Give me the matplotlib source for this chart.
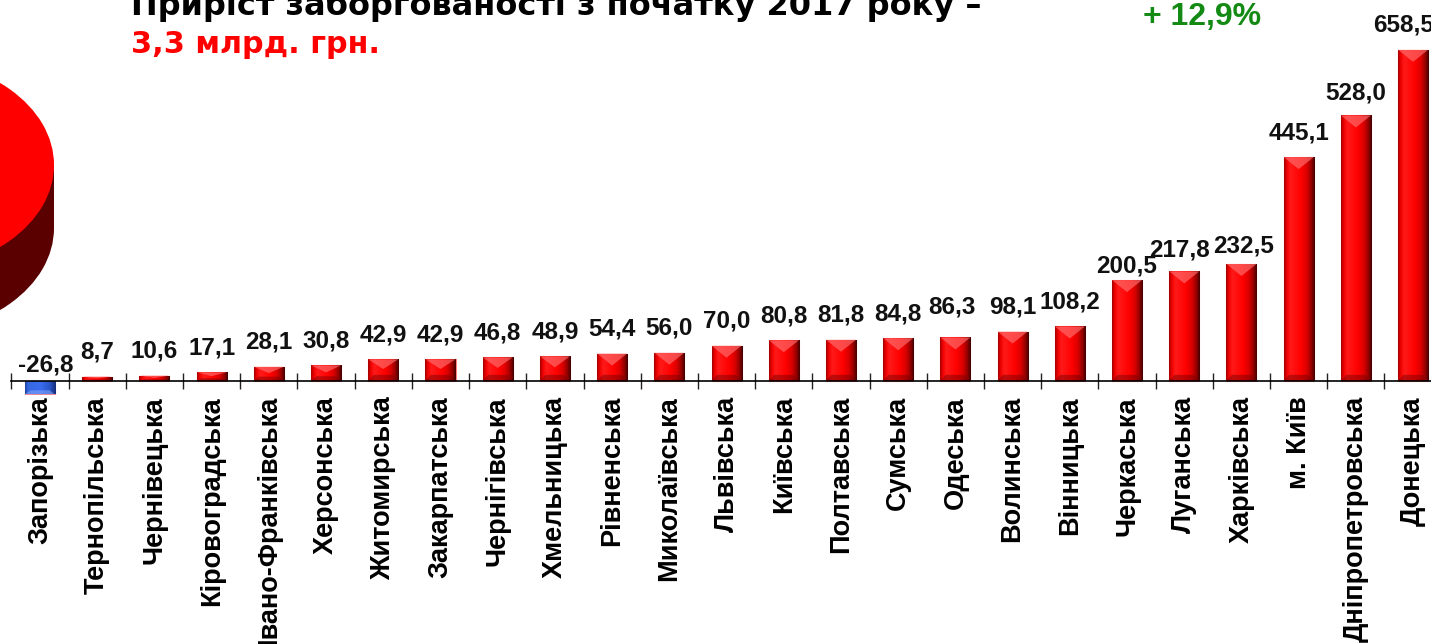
import matplotlib
matplotlib.use("Agg")
import matplotlib.pyplot as plt
import numpy as np
from matplotlib.colors import LinearSegmentedColormap
from matplotlib.patches import Polygon, Rectangle

plt.rcParams['font.family'] = ['Liberation Sans', 'DejaVu Sans']

categories = ["Запорізька", "Тернопільська", "Чернівецька", "Кіровоградська",
              "Івано-Франківська", "Херсонська", "Житомирська", "Закарпатська",
              "Чернігівська", "Хмельницька", "Рівненська", "Миколаївська",
              "Львівська", "Київська", "Полтавська", "Сумська", "Одеська",
              "Волинська", "Вінницька", "Черкаська", "Луганська", "Харківська",
              "м. Київ", "Дніпропетровська", "Донецька"]
values = [-26.8, 8.7, 10.6, 17.1, 28.1, 30.8, 42.9, 42.9, 46.8, 48.9, 54.4, 56.0,
          70.0, 80.8, 81.8, 84.8, 86.3, 98.1, 108.2, 200.5, 217.8, 232.5,
          445.1, 528.0, 658.5]

title_line1 = "Приріст заборгованості з початку 2017 року –"
title_line2 = "3,3 млрд. грн."
growth_text = "+ 12,9%"

# manual label nudges (pixels: dx, dy) relative to default placement
label_nudge = {"Запорізька": (6, 0), "Одеська": (-3, 6), "Черкаська": (0, -10.5),
               "Луганська": (-5, -3), "Харківська": (2, -7),
               "Дніпропетровська": (0, -2.5), "Донецька": (-10, 0)}

W, H = 1431, 644
fig = plt.figure(figsize=(W / 100, H / 100), dpi=100)
fig.patch.set_facecolor('white')

# ---------- partial 3D pie at the left edge ----------
pie_ax = fig.add_axes([-247 / W, (H - 335) / H, 301 / W, 277 / H])
depth = 0.59
pie_ax.pie([1], colors=['#5a0000'], center=(0, -depth), radius=1,
           wedgeprops=dict(linewidth=0))
pie_ax.add_patch(Rectangle((-1, -depth), 2, depth, color='#5a0000', lw=0))
pie_ax.pie([1], colors=['#ff0000'], center=(0, 0), radius=1,
           wedgeprops=dict(linewidth=0))
pie_ax.set_aspect('auto')
pie_ax.set_xlim(-1, 1)
pie_ax.set_ylim(-1 - depth, 1)
pie_ax.axis('off')

# ---------- bar chart ----------
ax = fig.add_axes([11.4 / W, (H - 394.7) / H, 1430.3 / W, 363.0 / H])
x = np.arange(len(categories))
ymin, ymax = -27.5, 694.6

red_cmap = LinearSegmentedColormap.from_list(
    'r', [(0.0, '#a00000'), (0.08, '#f00000'), (0.2, '#ff1a1a'), (0.55, '#ff0000'),
          (0.75, '#d80000'), (0.9, '#900000'), (1.0, '#400000')])
blue_cmap = LinearSegmentedColormap.from_list(
    'b', [(0.0, '#1c44a8'), (0.1, '#3668e0'), (0.5, '#3a6cf0'),
          (0.8, '#2a56c8'), (1.0, '#142c78')])
grad = np.linspace(0, 1, 64).reshape(1, -1)

bars = ax.bar(x, values, width=0.525, color='#ff0000', edgecolor='#ff8080',
              linewidth=0.8, zorder=2)
px_per_unit = 363.0 / (ymax - ymin)
for b, v in zip(bars, values):
    x0, w = b.get_x(), b.get_width()
    x1 = x0 + w
    xc = x0 + w / 2
    y0, y1 = min(0, v), max(0, v)
    cmap = red_cmap if v >= 0 else blue_cmap
    im = ax.imshow(grad, extent=[x0, x1, y0, y1], aspect='auto', cmap=cmap,
                   interpolation='bicubic', zorder=2.1)
    im.set_clip_path(b)
    h = y1 - y0
    bev = min(12 / px_per_unit, h * 0.45)
    bot = min(6 / px_per_unit, h * 0.3)
    ins = w * 0.18
    if v >= 0:
        ax.add_patch(Polygon([(x0, y1), (x1, y1), (xc, y1 - bev)], closed=True,
                             facecolor='#ff7070', alpha=0.65, lw=0, zorder=2.2))
        ax.add_patch(Polygon([(x0, y0), (x1, y0), (x1 - ins, y0 + bot), (x0 + ins, y0 + bot)],
                             closed=True, facecolor='#700000', alpha=0.45, lw=0, zorder=2.2))
    else:
        ax.add_patch(Polygon([(x0, y0), (x1, y0), (x1 - ins, y0 + bot), (x0 + ins, y0 + bot)],
                             closed=True, facecolor='#8fb0ff', alpha=0.5, lw=0, zorder=2.2))

for xi, v, c in zip(x, values, categories):
    dx, dy = label_nudge.get(c, (0, 0))
    base = 18 if v >= 0 else 9
    ax.annotate(f"{v:.1f}".replace('.', ','), xy=(xi, max(v, 0)),
                xytext=((dx) * 0.72, (base + dy) * 0.72), textcoords='offset points',
                ha='center', va='baseline', fontsize=17.5, fontweight='bold',
                color='#111111', zorder=5, annotation_clip=False)

ax.set_xlim(-0.5, len(categories) - 0.5)
ax.set_ylim(ymin, ymax)
for s in ['top', 'right', 'left']:
    ax.spines[s].set_visible(False)
ax.spines['bottom'].set_position(('data', 0))
ax.spines['bottom'].set_linewidth(1.2)
ax.spines['bottom'].set_zorder(3)
ax.set_yticks([])
ax.set_xticks(np.arange(-0.5, len(categories), 1.0))
ax.set_xticklabels([])
ax.tick_params(axis='x', which='major', direction='inout', length=11, width=1.0,
               color='#222222')
ax.set_xticks(x, minor=True)
ax.set_xticklabels(categories, minor=True, rotation=90, fontsize=19.5,
                   fontweight='bold')
ax.tick_params(axis='x', which='minor', length=0, pad=11)
ax.patch.set_alpha(0)

# ---------- titles ----------
title_font = ['DejaVu Sans', 'Liberation Sans']
fig.text(131 / W, (H - 15) / H, title_line1, fontsize=23, fontweight='bold',
         color='black', ha='left', va='baseline', family=title_font)
fig.text(131 / W, (H - 53) / H, title_line2, fontsize=21.8, fontweight='bold',
         color='#ff0000', ha='left', va='baseline', family=title_font)
fig.text(1143 / W, (H - 25) / H, growth_text, fontsize=23, fontweight='bold',
         color='#138a13', ha='left', va='baseline')

fig.savefig('out.png', dpi=100)
